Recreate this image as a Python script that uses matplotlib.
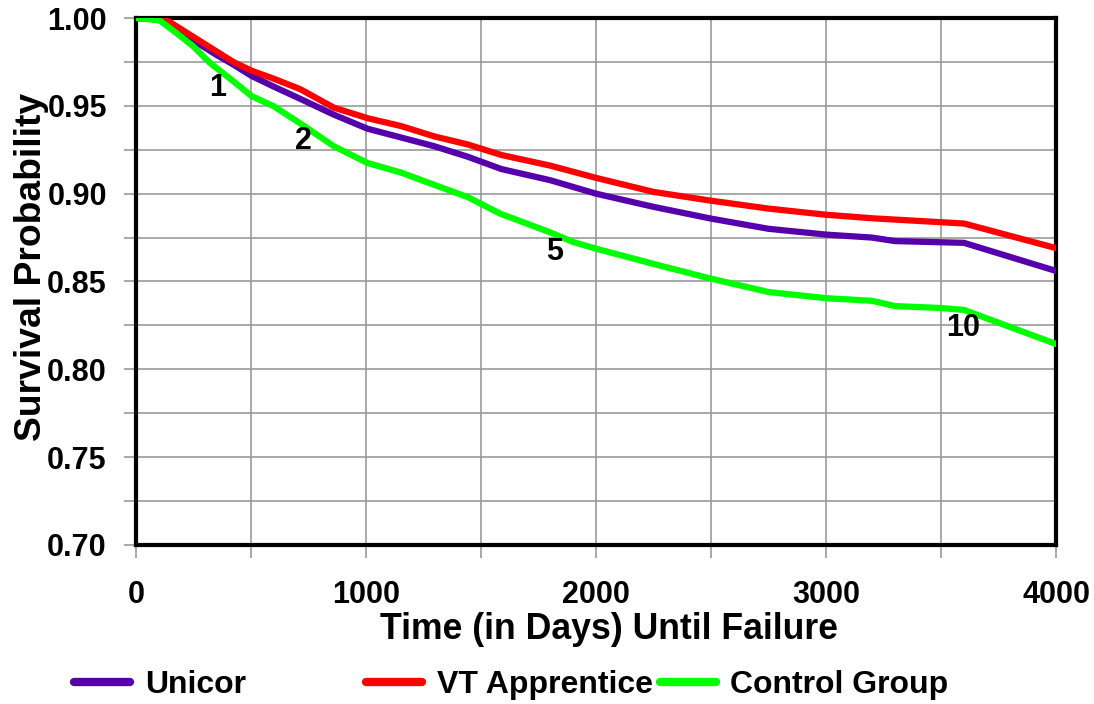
import numpy as np
import matplotlib
matplotlib.use("Agg")
import matplotlib.pyplot as plt
from matplotlib.ticker import MultipleLocator

plt.rcParams["font.family"] = ["Liberation Sans", "DejaVu Sans"]
plt.rcParams["font.weight"] = "bold"

# ---- donnees ----
t_unicor = [0, 131, 204, 277, 350, 423, 503, 598, 714, 860, 1006, 1152, 1297, 1443,
            1589, 1800, 2000, 2250, 2500, 2750, 3000, 3200, 3300, 3600, 4000]
p_unicor = [1.0, 0.999, 0.992, 0.985, 0.979, 0.9735, 0.967, 0.961, 0.954, 0.945, 0.937,
            0.932, 0.927, 0.921, 0.914, 0.9077, 0.900, 0.8925, 0.8858, 0.880, 0.8767,
            0.875, 0.873, 0.872, 0.856]

t_vt = [0, 131, 204, 277, 350, 423, 503, 598, 714, 860, 1006, 1152, 1297, 1443,
        1589, 1800, 2000, 2250, 2500, 2750, 3000, 3200, 3600, 4000]
p_vt = [1.0, 0.999, 0.993, 0.987, 0.981, 0.975, 0.970, 0.9655, 0.9595, 0.949, 0.943,
        0.9385, 0.9326, 0.928, 0.922, 0.916, 0.909, 0.901, 0.896, 0.8915, 0.888,
        0.886, 0.883, 0.869]

t_ctrl = [0, 102, 175, 248, 321, 423, 503, 598, 714, 860, 1006, 1152, 1297, 1443,
          1582, 1800, 1900, 2000, 2250, 2500, 2750, 3000, 3200, 3300, 3500, 3600, 4000]
p_ctrl = [1.0, 0.9987, 0.9915, 0.984, 0.9745, 0.964, 0.9555, 0.9498, 0.940, 0.927,
          0.9175, 0.912, 0.905, 0.898, 0.8887, 0.878, 0.8725, 0.8687, 0.860, 0.8516,
          0.844, 0.8405, 0.839, 0.836, 0.8349, 0.8338, 0.8144]

annot_txt = ["1", "2", "5", "10"]
annot_t = [357, 726, 1822, 3596]
annot_p = [0.960, 0.930, 0.867, 0.8235]

# ---- figure ----
fig = plt.figure(figsize=(10.94, 7.04), dpi=100)
ax = fig.add_axes([0.1243, 0.2259, 0.8410, 0.7485])

l1, = ax.plot(t_unicor, p_unicor, color="#5500AA", lw=4.5, label="Unicor",
              solid_capstyle="round", zorder=3)
l2, = ax.plot(t_vt, p_vt, color="#FF0000", lw=4.5, label="VT Apprentice",
              solid_capstyle="round", zorder=4)
l3, = ax.plot(t_ctrl, p_ctrl, color="#00FF00", lw=4.5, label="Control Group",
              solid_capstyle="round", zorder=5)

for txt, tt, pp in zip(annot_txt, annot_t, annot_p):
    ax.text(tt, pp, txt, fontsize=22, fontweight="bold", ha="center", va="center",
            zorder=6)

ax.set_xlim(0, 4000)
ax.set_ylim(0.70, 1.00)
ax.xaxis.set_major_locator(MultipleLocator(1000))
ax.xaxis.set_minor_locator(MultipleLocator(500))
ax.yaxis.set_major_locator(MultipleLocator(0.05))
ax.yaxis.set_minor_locator(MultipleLocator(0.025))
ax.yaxis.set_major_formatter(lambda v, pos: f"{v:.2f}")
ax.grid(True, which="both", color="#999999", lw=1.2, zorder=0)
ax.tick_params(which="both", direction="out", length=9, width=1.2, color="#999999")
ax.tick_params(axis="y", which="major", labelsize=22, pad=12)
ax.tick_params(axis="x", which="major", labelsize=22, pad=16)
for s in ax.spines.values():
    s.set_color("black")
    s.set_linewidth(3)

ax.set_xlabel("Time (in Days) Until Failure", fontsize=25.7, fontweight="bold")
ax.set_ylabel("Survival Probability", fontsize=26.8, fontweight="bold")
ax.xaxis.set_label_coords(0.514, -0.128)
ax.yaxis.set_label_coords(-0.095, 0.527)

# legende en bas, colonnes placees comme l'original
for h, xpos in zip([l1, l2, l3], [0.068, 0.335, 0.603]):
    leg = fig.legend(handles=[h], loc="center left", bbox_to_anchor=(xpos, 0.027),
                     frameon=False, fontsize=23, handlelength=1.75, handletextpad=0.45,
                     borderaxespad=0, borderpad=0)
    for lh in leg.get_lines():
        lh.set_linewidth(6)

fig.savefig("out.png", dpi=100, facecolor="white")
